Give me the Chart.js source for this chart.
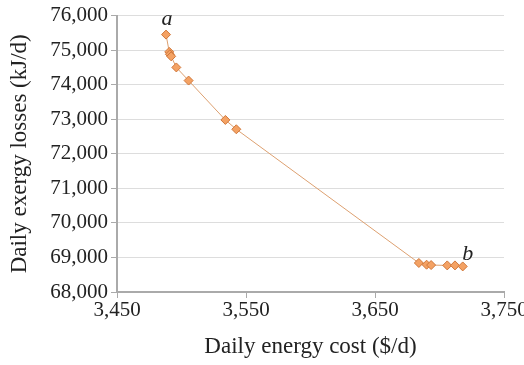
<!DOCTYPE html>
<html><head><meta charset="utf-8">
<script src="https://cdn.jsdelivr.net/npm/chart.js@4"></script>
<style>html,body{margin:0;padding:0;background:#fff}#c{display:block}</style>
</head><body>
<canvas id="c" width="524" height="365"></canvas>
<script>
const costs = [3488, 3490.5, 3491, 3492, 3496, 3505.5, 3534, 3542.5, 3684, 3690, 3693.5, 3706, 3712, 3718];
const losses = [75450, 74950, 74880, 74820, 74500, 74120, 72980, 72710, 68840, 68790, 68780, 68770, 68770, 68740];
const pointLabels = ['a', '', '', '', '', '', '', '', '', '', '', '', '', 'b'];
const xTicks = [3450, 3550, 3650, 3750];

const labelPlugin = {
  id: 'ptLabels',
  afterDatasetsDraw(chart) {
    const ctx = chart.ctx, xs = chart.scales.x, ys = chart.scales.y;
    ctx.save();
    ctx.font = 'italic 22px "Liberation Serif"';
    ctx.fillStyle = '#222';
    ctx.textAlign = 'center';
    ctx.textBaseline = 'alphabetic';
    pointLabels.forEach((t, i) => {
      if (!t) return;
      const px = xs.getPixelForValue(costs[i]);
      const py = ys.getPixelForValue(losses[i]);
      const dx = i === 0 ? 1 : 5;
      const dy = i === 0 ? -10 : -6;
      ctx.fillText(t, px + dx, py + dy);
    });
    ctx.restore();
  }
};

new Chart(document.getElementById('c'), {
  type: 'scatter',
  data: {
    datasets: [{
      data: costs.map((x, i) => ({x, y: losses[i]})),
      showLine: true,
      borderColor: '#DDA070',
      borderWidth: 1,
      backgroundColor: '#F4A264',
      pointBorderColor: '#D0773A',
      pointBorderWidth: 1,
      pointStyle: 'rectRot',
      pointRadius: 4.5,
      tension: 0
    }]
  },
  plugins: [labelPlugin],
  options: {
    responsive: false,
    animation: false,
    plugins: { legend: { display: false }, tooltip: { enabled: false } },
    layout: { padding: { top: 5, right: 0, left: 6, bottom: 4 } },
    scales: {
      x: {
        type: 'linear', min: 3450, max: 3750,
        afterBuildTicks(s) { s.ticks = xTicks.map(v => ({value: v})); },
        afterFit(s) { s.height = 69; s.paddingRight = 20; },
        border: { color: '#AAAAAA', width: 2 },
        grid: { drawOnChartArea: false, drawTicks: true, tickLength: 6, color: '#AAAAAA', lineWidth: 1 },
        ticks: { color: '#222', font: { family: 'Liberation Serif', size: 21 }, padding: 0, maxRotation: 0,
          callback: v => v.toLocaleString('en-US') },
        title: { display: true, text: 'Daily energy cost ($/d)', color: '#222',
          font: { family: 'Liberation Serif', size: 23 }, padding: { top: 10, bottom: 0 } }
      },
      y: {
        min: 68000, max: 76000,
        afterFit(s) { s.width = 111; },
        border: { color: '#AAAAAA', width: 2 },
        grid: { color: '#DDDDDD', lineWidth: 1, drawTicks: true, tickLength: 6, tickColor: '#AAAAAA' },
        ticks: { stepSize: 1000, color: '#222', font: { family: 'Liberation Serif', size: 21 }, padding: 3,
          callback: v => v.toLocaleString('en-US') },
        title: { display: true, text: 'Daily exergy losses (kJ/d)', color: '#222',
          font: { family: 'Liberation Serif', size: 23 }, padding: { top: 0, bottom: 2 } }
      }
    }
  }
});
</script>
</body></html>
